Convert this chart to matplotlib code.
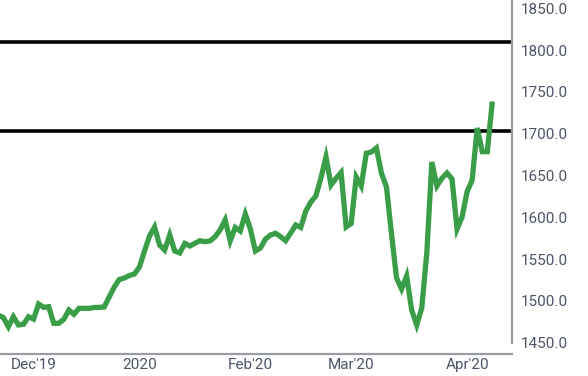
import matplotlib
matplotlib.use("Agg")
import matplotlib.pyplot as plt
from matplotlib.ticker import FormatStrFormatter

# ---- data (daily closes) ----
prices = [
    1483.1, 1480.1, 1469.1, 1481.1, 1471.2, 1472.0, 1481.1, 1478.3, 1496.3, 1492.3,
    1493.1, 1473.2, 1473.2, 1478.0, 1489.1, 1484.0, 1491.1, 1491.1, 1491.1, 1492.1,
    1492.3, 1492.7, 1504.7, 1516.6, 1525.6, 1527.4, 1530.4, 1532.2, 1540.6, 1559.7,
    1577.6, 1588.4, 1566.9, 1560.9, 1578.8, 1559.7, 1557.3, 1568.7, 1565.7, 1568.9,
    1572.0, 1570.8, 1571.7, 1576.8, 1584.8, 1596.8, 1571.7, 1587.8, 1583.6, 1603.9,
    1586.0, 1559.7, 1563.3, 1574.0, 1578.8, 1580.9, 1576.8, 1572.0, 1581.2, 1590.8,
    1587.8, 1607.5, 1618.3, 1625.5, 1647.0, 1672.1, 1638.6, 1646.7, 1653.6, 1588.4,
    1592.6, 1648.2, 1637.4, 1676.6, 1678.1, 1682.9, 1653.0, 1636.2, 1580.0, 1527.4,
    1514.2, 1529.8, 1489.1, 1471.2, 1491.5, 1557.3, 1666.1, 1637.4, 1646.7, 1653.0,
    1645.8, 1586.0, 1600.4, 1630.6, 1644.6, 1706.8, 1678.5, 1678.5, 1738.5,
]
x_idx = list(range(len(prices)))

tick_idx = [7, 28, 50, 70, 93]
tick_labels = ["Dec'19", "2020", "Feb'20", "Mar'20", "Apr'20"]

levels = [1809.5, 1703.0]
y_ticks = [1450, 1500, 1550, 1600, 1650, 1700, 1750, 1800, 1850]

# ---- figure ----
plt.rcParams['font.family'] = ['Roboto', 'DejaVu Sans']
fig = plt.figure(figsize=(5.88, 3.76), dpi=100)
ax = fig.add_axes([0.0, 1 - 354 / 376, 512 / 588, 354 / 376])

for lv in levels:
    ax.axhline(lv, color='black', lw=2.6, zorder=2)

ax.plot(x_idx, prices, color='#3a9e48', lw=3.8, zorder=3,
        solid_joinstyle='miter', solid_capstyle='butt')

ax.set_xlim(0.34, 101.9)
ax.set_ylim(1436.5, 1859.9)

ax.yaxis.tick_right()
ax.set_yticks(y_ticks)
ax.yaxis.set_major_formatter(FormatStrFormatter('%.1f'))
ax.set_xticks(tick_idx)
ax.set_xticklabels(tick_labels)

label_color = '#4d5468'
ax.tick_params(axis='y', length=0, pad=6, labelsize=11, labelcolor=label_color)
ax.tick_params(axis='x', length=0, pad=3, labelsize=11, labelcolor=label_color)

for s in ['left', 'top']:
    ax.spines[s].set_visible(False)
spine_color = '#9a9ca3'
ax.spines['right'].set_color(spine_color)
ax.spines['right'].set_linewidth(1.6)
ax.spines['right'].set_bounds(1450, 1859.9)
ax.spines['bottom'].set_color(spine_color)
ax.spines['bottom'].set_linewidth(1.6)

fig.savefig('out.png', dpi=100)
